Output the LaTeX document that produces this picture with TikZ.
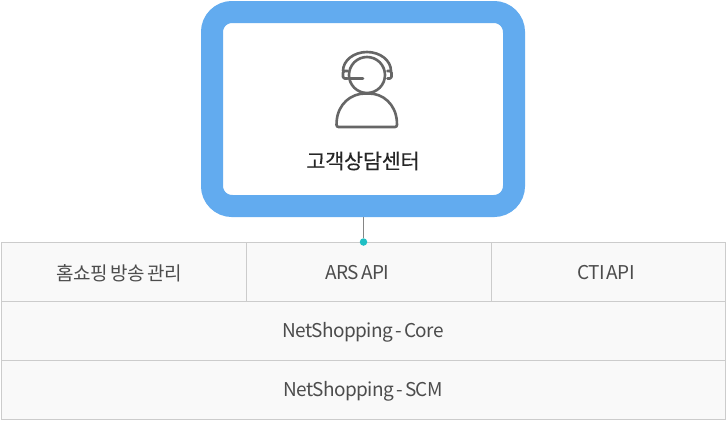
\documentclass[tikz,border=0pt]{standalone}
\usepackage{fontspec}
\setmainfont{Noto Sans CJK KR}[WordSpace=0.6]
\usetikzlibrary{positioning}
\definecolor{boxblue}{HTML}{62ABEF}
\definecolor{cellline}{HTML}{CCCCCC}
\definecolor{cellfill}{HTML}{F9F9F9}
\definecolor{celltext}{HTML}{4C4C4C}
\definecolor{icongray}{HTML}{666666}
\definecolor{dotteal}{HTML}{1FBFC4}
\tikzset{
  cell/.style={rectangle, draw=cellline, fill=cellfill, line width=1pt, minimum height=59pt, inner sep=0pt},
  celllabel/.style={text=celltext, font=\fontsize{19}{22}\selectfont\addfontfeature{LetterSpace=-3}, inner sep=0pt},
  iconline/.style={draw=icongray, line width=2.6pt, line cap=round, line join=round}
}
\begin{document}
\begin{tikzpicture}[x=1pt, y=1pt]
	\useasboundingbox (0,0) rectangle (726,-421);
	\node[cell, minimum width=245pt] (Shopping) at (124,-271.5) {};
	\node[cell, minimum width=245pt] (Ars) at (369,-271.5) {};
	\node[cell, minimum width=234pt] (Cti) at (608.5,-271.5) {};
	\node[cell, minimum width=724pt] (Core) at (363,-330.5) {};
	\node[cell, minimum width=724pt] (Scm) at (363,-389.5) {};
	\node[celllabel] (ShoppingText) at (119,-273) {\addfontfeature{LetterSpace=-1.5}홈쇼핑 방송 관리};
	\node[celllabel] (ArsText) at (357.5,-273) {ARS API};
	\node[celllabel] (CtiText) at (606,-273) {CTI API};
	\node[celllabel] (CoreText) at (363,-332) {NetShopping - Core};
	\node[celllabel] (ScmText) at (363,-391) {NetShopping - SCM};
	\node[rectangle, draw=boxblue, fill=white, line width=22pt, rounded corners=20pt, minimum width=302pt, minimum height=194pt] (Center) at (363,-109) {};
	\node[font=\fontsize{20.7}{24}\selectfont\addfontfeature{LetterSpace=-1,FakeBold=0.25}, text=black!85, inner sep=0pt] (Title) at (363,-161) {고객상담센터};
	\node[circle, fill=dotteal, minimum size=7.5pt, inner sep=0pt] (Dot) at (363.5,-242) {};
	\draw[icongray!80, line width=1pt] (Center.south -| Dot) -- (Dot);
	% icon
	\draw[iconline] (367,-75) circle (18);
	\draw[iconline] (343,-71) arc (180:0:24 and 19);
	\draw[iconline, rounded corners=1.5pt] (347.5,-71) -- (343,-71) -- (343,-78.5) -- (347.5,-78.5);
	\draw[iconline, rounded corners=1.5pt] (387.5,-71) -- (391.5,-71) -- (391.5,-78.5) -- (387.5,-78.5);
	\draw[iconline] (349,-78.5) -- (363,-78.5);
	\draw[iconline, rounded corners=2pt] (336.5,-127) -- (336.5,-123) .. controls (338,-104) and (351,-93.5) .. (367,-93.5) .. controls (383,-93.5) and (395.5,-104) .. (397,-123) -- (397,-127) -- cycle;
\end{tikzpicture}
\end{document}
